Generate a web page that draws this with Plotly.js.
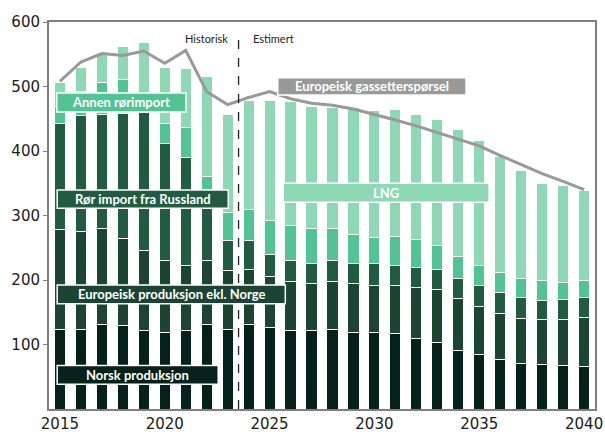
<!DOCTYPE html>
<html>
<head>
<meta charset="utf-8">
<script src="https://cdn.plot.ly/plotly-3.0.1.min.js"></script>
<style>
  html, body { margin: 0; padding: 0; background: #fff; }
  #chart { width: 605px; height: 432px; }
</style>
</head>
<body>
<div id="chart"></div>
<script>
// Years on the x axis
const years = [2015, 2016, 2017, 2018, 2019, 2020, 2021, 2022, 2023, 2024, 2025, 2026, 2027,
               2028, 2029, 2030, 2031, 2032, 2033, 2034, 2035, 2036, 2037, 2038, 2039, 2040];

// Supply components (stacked, bottom to top)
const norskProduksjon = [124, 123, 131, 130, 122, 118, 121, 131, 124, 131, 126, 121, 121,
                         124, 119, 118, 117, 109, 103, 91, 84, 76, 71, 69, 67, 66];
const europeiskProduksjon = [154, 152, 149, 134, 124, 113, 101, 100, 90, 86, 79, 77, 73,
                             74, 75, 74, 74, 80, 82, 80, 75, 72, 70, 70, 72, 76];
const russiskRor = [164, 180, 177, 194, 213, 181, 168, 109, 47, 44, 34, 33, 32,
                    32, 31, 33, 32, 31, 31, 31, 32, 32, 32, 30, 31, 31];
const annenRor = [27, 38, 49, 53, 10, 30, 46, 21, 43, 49, 53, 53, 54,
                  50, 46, 41, 45, 43, 38, 34, 32, 31, 30, 30, 26, 26];
const lng = [37, 37, 45, 51, 99, 87, 92, 155, 153, 168, 186, 192, 189,
             187, 196, 197, 197, 194, 195, 197, 193, 180, 167, 151, 150, 139];

// European gas demand
const ettersporsel = [508, 538, 551, 548, 555, 536, 556, 492, 472, 483, 492, 481, 474,
                      471, 465, 457, 448, 439, 429, 418, 408, 393, 379, 365, 353, 340];

// Series names and tick labels
const seriesNames = ["Norsk produksjon", "Europeisk produksjon ekl. Norge",
                     "Rør import fra Russland", "Annen rørimport", "LNG",
                     "Europeisk gassetterspørsel"];
const xTicks = [2015, 2020, 2025, 2030, 2035, 2040];
const yTicks = [100, 200, 300, 400, 500, 600];
const periodLabels = ["Historisk", "Estimert"];

const colors = ["#062119", "#1b4433", "#215b42", "#52c493", "#8ed8b6"];
const supply = [norskProduksjon, europeiskProduksjon, russiskRor, annenRor, lng];

const traces = supply.map((vals, i) => ({
  type: "bar",
  x: years,
  y: vals,
  name: seriesNames[i],
  width: 0.53,
  marker: { color: colors[i], line: { color: "#ffffff", width: 1 } },
  hoverinfo: "x+y+name"
}));

traces.push({
  type: "scatter",
  mode: "lines",
  x: years,
  y: ettersporsel,
  name: seriesNames[5],
  line: { color: "#999999", width: 3 }
});

// Label boxes placed over the series they name: [x0, x1, y0, y1, fill, series index]
const boxes = [
  [2014.85, 2021.01, 460.6, 490.0, "#52c493", 3],
  [2014.87, 2023.03, 311.4, 339.7, "#215b42", 2],
  [2014.87, 2025.75, 163.0, 192.3, "#1b4433", 1],
  [2014.87, 2022.55, 38.5, 67.3, "#062119", 0],
  [2025.65, 2035.47, 320.5, 349.9, "#8ed8b6", 4],
  [2025.39, 2034.37, 486.8, 513.7, "#999999", 5]
];

const shapes = boxes.map(b => ({
  type: "rect", xref: "x", yref: "y",
  x0: b[0], x1: b[1], y0: b[2], y1: b[3],
  fillcolor: b[4], line: { color: "#ffffff", width: 1.5 }, layer: "above"
}));

// Boundary between historical and estimated years
shapes.push({
  type: "line", xref: "x", yref: "y",
  x0: 2023.52, x1: 2023.52, y0: 0, y1: 578,
  line: { color: "#222222", width: 1.3, dash: "dash" }, layer: "above"
});

const annotations = boxes.map(b => ({
  xref: "x", yref: "y",
  x: (b[0] + b[1]) / 2, y: (b[2] + b[3]) / 2,
  text: seriesNames[b[5]],
  showarrow: false,
  xanchor: "center", yanchor: "middle",
  font: { family: "Lato, 'Open Sans', sans-serif", size: 13, color: "#ffffff", weight: "bold" }
}));

annotations.push(
  { xref: "x", yref: "y", x: 2022.0, y: 575, text: periodLabels[0], showarrow: false,
    xanchor: "center", yanchor: "middle",
    font: { family: "Lato, sans-serif", size: 11, color: "#222222" } },
  { xref: "x", yref: "y", x: 2025.2, y: 575, text: periodLabels[1], showarrow: false,
    xanchor: "center", yanchor: "middle",
    font: { family: "Lato, sans-serif", size: 11, color: "#222222" } }
);

const layout = {
  width: 605,
  height: 432,
  margin: { l: 49, r: 10, t: 22, b: 23, pad: 0 },
  paper_bgcolor: "#ffffff",
  plot_bgcolor: "#ffffff",
  barmode: "stack",
  showlegend: false,
  xaxis: {
    range: [2014.48, 2040.52],
    tickvals: xTicks,
    ticktext: xTicks.map(String),
    showline: true, linecolor: "#7f7f7f", linewidth: 2, mirror: true,
    showgrid: false, zeroline: false, ticks: "",
    tickfont: { family: "'DejaVu Sans', Verdana, sans-serif", size: 15, color: "#1a1a1a" }
  },
  yaxis: {
    range: [0, 600],
    tickvals: yTicks,
    ticktext: yTicks.map(String),
    showline: true, linecolor: "#7f7f7f", linewidth: 2, mirror: true,
    showgrid: false, zeroline: false,
    ticks: "outside", ticklen: 4, tickcolor: "#7f7f7f",
    tickfont: { family: "'DejaVu Sans', Verdana, sans-serif", size: 15, color: "#1a1a1a" }
  },
  shapes: shapes,
  annotations: annotations
};

Plotly.newPlot("chart", traces, layout, { staticPlot: true, displayModeBar: false });
</script>
</body>
</html>
